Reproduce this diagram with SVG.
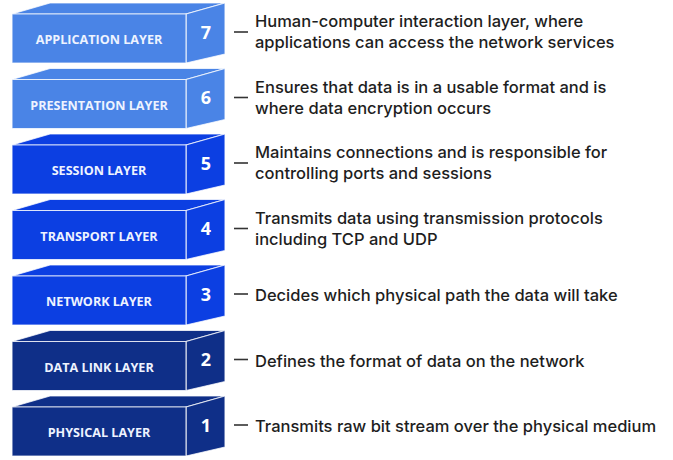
<svg xmlns="http://www.w3.org/2000/svg" width="673" height="460" viewBox="0 0 673 460">
<style>
.f{stroke:#ffffff;stroke-width:1.2;stroke-opacity:0.75;stroke-linejoin:round}
.l1{fill:#4a84e6}
.l2{fill:#0c3fe2}
.l3{fill:#0f2f88}
.lbl{font-family:"Open Sans","Liberation Sans",sans-serif;font-weight:700;font-size:12.6px;fill:#eef3ff;text-anchor:middle}
.num{font-family:"Open Sans","Liberation Sans",sans-serif;font-weight:700;font-size:18px;fill:#ffffff;text-anchor:middle}
.d{font-family:Inter,"Liberation Sans",sans-serif;font-size:16.5px;font-weight:500;fill:#1e1e1e}
.dash{stroke:#333333;stroke-width:1.6}
</style>
<rect width="673" height="460" fill="#ffffff"/>
<defs>
<g id="blk">
<polygon class="f" points="12,0 50,-11 225,-11 186,0"/>
<polygon class="f" points="186,0 225,-11 225,40 186,49"/>
<rect class="f" x="12" y="0" width="174" height="49"/>
</g>
</defs>
<g id="layer7" transform="translate(0,14)">
<use href="#blk" class="l1"/>
<text class="lbl" x="99" y="30">APPLICATION LAYER</text>
<text class="num" x="206" y="24.5">7</text>
</g>
<g id="layer6" transform="translate(0,79.5)">
<use href="#blk" class="l1"/>
<text class="lbl" x="99" y="30">PRESENTATION LAYER</text>
<text class="num" x="206" y="24.5">6</text>
</g>
<g id="layer5" transform="translate(0,145)">
<use href="#blk" class="l2"/>
<text class="lbl" x="99" y="30">SESSION LAYER</text>
<text class="num" x="206" y="24.5">5</text>
</g>
<g id="layer4" transform="translate(0,210.5)">
<use href="#blk" class="l2"/>
<text class="lbl" x="99" y="30">TRANSPORT LAYER</text>
<text class="num" x="206" y="24.5">4</text>
</g>
<g id="layer3" transform="translate(0,276)">
<use href="#blk" class="l2"/>
<text class="lbl" x="99" y="30">NETWORK LAYER</text>
<text class="num" x="206" y="24.5">3</text>
</g>
<g id="layer2" transform="translate(0,341.5)">
<use href="#blk" class="l3"/>
<text class="lbl" x="99" y="30">DATA LINK LAYER</text>
<text class="num" x="206" y="24.5">2</text>
</g>
<g id="layer1" transform="translate(0,407)">
<use href="#blk" class="l3"/>
<text class="lbl" x="99" y="30">PHYSICAL LAYER</text>
<text class="num" x="206" y="24.5">1</text>
</g>
<g id="connectors">
<line class="dash" x1="234" y1="32" x2="248" y2="32"/>
<line class="dash" x1="234" y1="97.5" x2="248" y2="97.5"/>
<line class="dash" x1="234" y1="163" x2="248" y2="163"/>
<line class="dash" x1="234" y1="228.5" x2="248" y2="228.5"/>
<line class="dash" x1="234" y1="294" x2="248" y2="294"/>
<line class="dash" x1="234" y1="359.5" x2="248" y2="359.5"/>
<line class="dash" x1="234" y1="425" x2="248" y2="425"/>
</g>
<g id="descriptions">
<text class="d" x="255" y="27">Human-computer interaction layer, where</text>
<text class="d" x="255" y="48">applications can access the network services</text>
<text class="d" x="255" y="92.5">Ensures that data is in a usable format and is</text>
<text class="d" x="255" y="113.5">where data encryption occurs</text>
<text class="d" x="255" y="158">Maintains connections and is responsible for</text>
<text class="d" x="255" y="179">controlling ports and sessions</text>
<text class="d" x="255" y="223.5">Transmits data using transmission protocols</text>
<text class="d" x="255" y="244.5">including TCP and UDP</text>
<text class="d" x="255" y="301">Decides which physical path the data will take</text>
<text class="d" x="255" y="366.5">Defines the format of data on the network</text>
<text class="d" x="255" y="432">Transmits raw bit stream over the physical medium</text>
</g>
</svg>
